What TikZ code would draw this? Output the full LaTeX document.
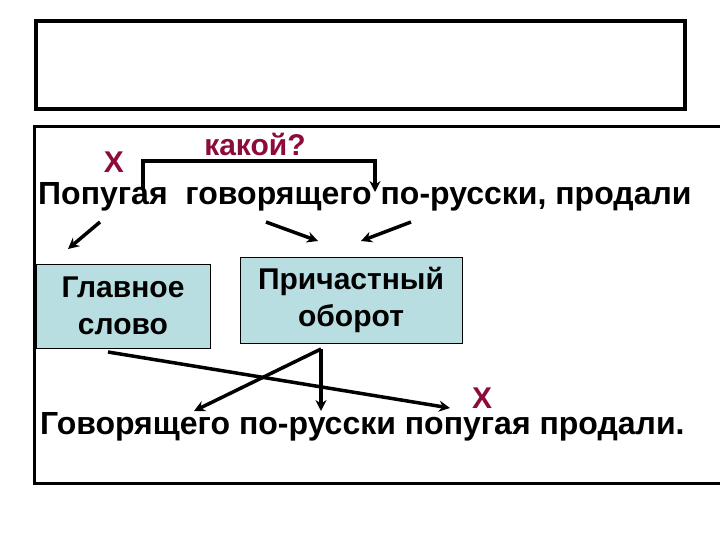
\documentclass[tikz,border=0pt]{standalone}
\usepackage{fontspec}
\setmainfont{Liberation Sans}
\usetikzlibrary{arrows.meta}
\definecolor{maroon}{RGB}{140,10,60}
\definecolor{boxblue}{RGB}{184,222,226}
\begin{document}
\begin{tikzpicture}[x=1pt,y=-1pt,
  txt/.style={font=\fontsize{32}{36}\selectfont\bfseries,inner sep=0pt},
  red/.style={text=maroon,font=\fontsize{30}{34}\selectfont\bfseries,inner sep=0pt},
  bx/.style={draw=black,fill=boxblue,line width=0.8pt,font=\fontsize{30}{37}\selectfont\bfseries,align=center,inner sep=0pt},
  arr/.style={line width=3.5pt,-{Stealth[length=11pt,width=11pt]}}]
\useasboundingbox (0,0) rectangle (720,540);
\draw[line width=4pt] (36,21) rectangle (685,109);
\draw[line width=3pt] (34,127) rectangle (721,483);
\node[red] (q) at (255,144) {какой?};
\node[red] (x1) at (114,162) {Х};
\node[txt,anchor=west] (s1) at (38,197) {Попугая\ \ говорящего по-русски, продали};
\coordinate (b1) at (143,190);
\coordinate (b2) at (375,192);
\draw[arr] (b1) |- (375,161) -- (b2);
\node[bx,minimum width=174pt,minimum height=84pt] (g) at (123,306) {Главное\\слово};
\node[bx,minimum width=222pt,minimum height=86pt,anchor=north] (p) at (351,257) {Причастный\\оборот};
\coordinate (a1s) at (100,222); \coordinate (a1e) at (68,249);
\coordinate (a2s) at (266,222); \coordinate (a2e) at (318,241);
\coordinate (a3s) at (411,222); \coordinate (a3e) at (361,241);
\draw[arr] (a1s) -- (a1e);
\draw[arr] (a2s) -- (a2e);
\draw[arr] (a3s) -- (a3e);
\coordinate (top) at (321,349);
\coordinate (e1) at (194,411);
\coordinate (e2) at (321,411);
\coordinate (l1) at (108,352);
\coordinate (e3) at (450,408);
\draw[arr] (top) -- (e1);
\draw[arr] (top) -- (e2);
\draw[arr] (l1) -- (e3);
\node[red] (x2) at (482,398) {Х};
\node[txt,anchor=west] (s2) at (40,427) {Говорящего по-русски попугая продали.};
\end{tikzpicture}
\end{document}
